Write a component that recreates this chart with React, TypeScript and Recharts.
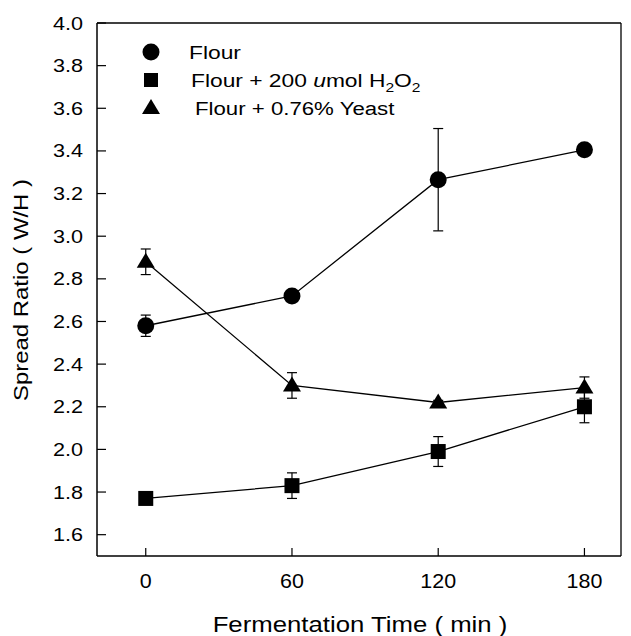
import React from 'react';
import { LineChart, Line, XAxis, YAxis, ErrorBar, ReferenceLine } from 'recharts';

const times = [0, 60, 120, 180];
const flour = [2.58, 2.72, 3.265, 3.405];
const flourErr = [0.05, 0.02, 0.24, 0.02];
const h2o2 = [1.77, 1.83, 1.99, 2.2];
const h2o2Err = [0.01, 0.06, 0.07, 0.075];
const yeast = [2.88, 2.3, 2.22, 2.29];
const yeastErr = [0.06, 0.06, 0.01, 0.05];
const xTicks = [0, 60, 120, 180];
const yTicks = [1.6, 1.8, 2.0, 2.2, 2.4, 2.6, 2.8, 3.0, 3.2, 3.4, 3.6, 3.8, 4.0];
const xTitle = 'Fermentation Time ( min )';
const yTitle = 'Spread Ratio ( W/H )';

const data = times.map((t, i) => ({
  t,
  flour: flour[i],
  flourErr: flourErr[i],
  h2o2: h2o2[i],
  h2o2Err: h2o2Err[i],
  yeast: yeast[i],
  yeastErr: yeastErr[i],
}));

const FONT = '"Liberation Sans", Arial, Helvetica, sans-serif';
const INK = '#000';

const CircleDot = (p: any) => (
  <circle key={`c${p.index}`} cx={p.cx} cy={p.cy} r={8.5} fill={INK} stroke="none" />
);
const SquareDot = (p: any) => (
  <rect key={`s${p.index}`} x={p.cx - 7.5} y={p.cy - 7.5} width={15} height={15} fill={INK} stroke="none" />
);
const TriDot = (p: any) => (
  <path
    key={`t${p.index}`}
    d={`M${p.cx},${p.cy - 9} L${p.cx + 9},${p.cy + 6} L${p.cx - 9},${p.cy + 6} Z`}
    fill={INK}
    stroke="none"
  />
);

const YTick = (p: any) => (
  <text
    transform={`translate(83,${p.y + 6.5}) scale(1.2,1)`}
    textAnchor="end"
    fontFamily={FONT}
    fontSize={18}
    fill={INK}
  >
    {Number(p.payload.value).toFixed(1)}
  </text>
);

const XTick = (p: any) => (
  <text
    transform={`translate(${p.x},588) scale(1.1,1)`}
    textAnchor="middle"
    fontFamily={FONT}
    fontSize={19.5}
    fill={INK}
  >
    {p.payload.value}
  </text>
);

export default function App() {
  return (
    <div style={{ position: 'absolute', left: 0, top: 0, width: 631, height: 636, background: '#fff' }}>
      <LineChart
        width={631}
        height={636}
        data={data}
        margin={{ top: 23, right: 10, left: 37, bottom: 0 }}
      >
        <XAxis
          dataKey="t"
          type="number"
          domain={[-20, 195]}
          ticks={xTicks}
          interval={0}
          height={80}
          tickSize={-8}
          tickMargin={20}
          tick={XTick}
          axisLine={{ stroke: INK, strokeWidth: 1.5 }}
          tickLine={{ stroke: INK, strokeWidth: 1.2 }}
          allowDataOverflow
        />
        <YAxis
          type="number"
          domain={[1.5, 4]}
          ticks={yTicks}
          interval={0}
          width={60}
          tickSize={-9}
          tickMargin={23}
          tick={YTick}
          axisLine={{ stroke: INK, strokeWidth: 1.5 }}
          tickLine={{ stroke: INK, strokeWidth: 1.2 }}
          allowDataOverflow
        />
        <ReferenceLine y={4} stroke={INK} strokeWidth={1.3} />
        <ReferenceLine x={195} stroke={INK} strokeWidth={1.3} />
        <Line
          dataKey="flour"
          stroke={INK}
          strokeWidth={1.3}
          dot={CircleDot}
          activeDot={false}
          isAnimationActive={false}
        >
          <ErrorBar dataKey="flourErr" width={5} stroke={INK} strokeWidth={1.2} direction="y" isAnimationActive={false} />
        </Line>
        <Line
          dataKey="h2o2"
          stroke={INK}
          strokeWidth={1.3}
          dot={SquareDot}
          activeDot={false}
          isAnimationActive={false}
        >
          <ErrorBar dataKey="h2o2Err" width={5} stroke={INK} strokeWidth={1.2} direction="y" isAnimationActive={false} />
        </Line>
        <Line
          dataKey="yeast"
          stroke={INK}
          strokeWidth={1.3}
          dot={TriDot}
          activeDot={false}
          isAnimationActive={false}
        >
          <ErrorBar dataKey="yeastErr" width={5} stroke={INK} strokeWidth={1.2} direction="y" isAnimationActive={false} />
        </Line>
      </LineChart>
      <svg
        width={631}
        height={636}
        style={{ position: 'absolute', left: 0, top: 0, pointerEvents: 'none' }}
      >
        {/* legend */}
        <circle cx={151} cy={52} r={8.5} fill={INK} />
        <text transform="translate(189,59) scale(1.2,1)" fontFamily={FONT} fontSize={19} fill={INK}>
          Flour
        </text>
        <rect x={144} y={73} width={14} height={14} fill={INK} />
        <text transform="translate(191,87) scale(1.2,1)" fontFamily={FONT} fontSize={19} fill={INK}>
          Flour + 200 <tspan fontStyle="italic">u</tspan>mol H
          <tspan fontSize={13} dy={5}>2</tspan>
          <tspan dy={-5}>O</tspan>
          <tspan fontSize={13} dy={5}>2</tspan>
        </text>
        <path d="M151,99 L160,114 L142,114 Z" fill={INK} />
        <text transform="translate(195,115) scale(1.17,1)" fontFamily={FONT} fontSize={19} fill={INK}>
          Flour + 0.76% Yeast
        </text>
        {/* axis titles */}
        <text
          transform="translate(360,632) scale(1.12,1)"
          textAnchor="middle"
          fontFamily={FONT}
          fontSize={23}
          fill={INK}
        >
          {xTitle}
        </text>
        <text
          transform="translate(28,290) rotate(-90) scale(1.14,1)"
          textAnchor="middle"
          fontFamily={FONT}
          fontSize={21}
          fill={INK}
        >
          {yTitle}
        </text>
      </svg>
    </div>
  );
}
